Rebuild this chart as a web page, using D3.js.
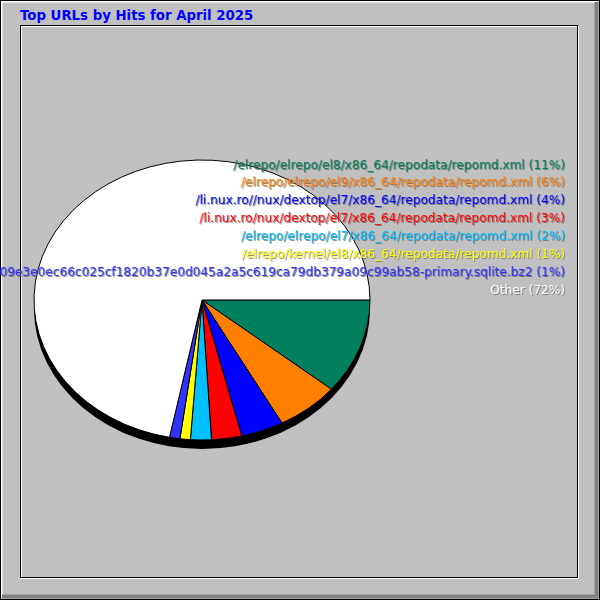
<!DOCTYPE html>
<html>
<head>
<meta charset="utf-8">
<script src="https://cdn.jsdelivr.net/npm/d3@7"></script>
<style>
body { margin: 0; background: #fff; }
svg { display: block; }
</style>
</head>
<body>
<div id="chart"></div>
<script>
// Top URLs for the month, share of hits (%)
var urls = [
	"/elrepo/elrepo/el8/x86_64/repodata/repomd.xml",
	"/elrepo/elrepo/el9/x86_64/repodata/repomd.xml",
	"/li.nux.ro//nux/dextop/el7/x86_64/repodata/repomd.xml",
	"/li.nux.ro/nux/dextop/el7/x86_64/repodata/repomd.xml",
	"/elrepo/elrepo/el7/x86_64/repodata/repomd.xml",
	"/elrepo/kernel/el8/x86_64/repodata/repomd.xml",
	"09e3e0ec66c025cf1820b37e0d045a2a5c619ca79db379a09c99ab58-primary.sqlite.bz2",
	"Other"
];
var percents = [11.0, 6.1, 4.1, 2.9, 2.0, 1.0, 1.0, 71.9];
var colors = ["#00805C", "#FF8000", "#0000FF", "#FF0000", "#00C0FF", "#FFFF00", "#3333FF", "#FFFFFF"];
var title = "Top URLs by Hits for April 2025";

var W = 600, H = 600;
var svg = d3.select("#chart").append("svg")
	.attr("width", W).attr("height", H);

// outer panel
svg.append("rect").attr("x", 0).attr("y", 0).attr("width", W).attr("height", H)
	.attr("fill", "#C0C0C0");
svg.append("path").attr("d", "M1.5,598V1.5H598").attr("fill", "none")
	.attr("stroke", "#fff").attr("stroke-width", 2);
svg.append("path").attr("d", "M2,596.5H596.5V2").attr("fill", "none")
	.attr("stroke", "#808080").attr("stroke-width", 4);
svg.append("rect").attr("x", 0.5).attr("y", 0.5).attr("width", W - 1).attr("height", H - 1)
	.attr("fill", "none").attr("stroke", "#000");

// inner frame
svg.append("rect").attr("x", 21.5).attr("y", 26.5).attr("width", 557).attr("height", 552)
	.attr("fill", "none").attr("stroke", "#fff");
svg.append("rect").attr("x", 20.5).attr("y", 25.5).attr("width", 557).attr("height", 552)
	.attr("fill", "none").attr("stroke", "#000");

svg.append("text").attr("x", 20).attr("y", 20)
	.attr("font-family", "DejaVu Sans").attr("font-weight", "bold").attr("font-size", 13.3)
	.attr("fill", "#0000FF").text(title);

// pie
var cx = 202, cy = 300, rx = 168, ry = 140, depth = 9;

svg.append("ellipse").attr("cx", cx).attr("cy", cy + depth).attr("rx", rx).attr("ry", ry)
	.attr("fill", "#000");

var pie = d3.pie().sort(null)
	.startAngle(Math.PI / 2).endAngle(Math.PI / 2 + 2 * Math.PI);
var arc = d3.arc().innerRadius(0).outerRadius(rx);

svg.append("g")
	.attr("transform", "translate(" + cx + "," + cy + ")scale(1," + (ry / rx) + ")")
	.selectAll("path.slice")
	.data(pie(percents)).enter()
	.append("path").attr("class", "slice")
	.attr("d", arc)
	.attr("fill", (d, i) => colors[i])
	.attr("stroke", "#000")
	.attr("stroke-width", 1)
	.attr("vector-effect", "non-scaling-stroke");

// legend labels
var y = d3.scalePoint().domain(d3.range(urls.length)).range([168.5, 293.5]);
var labels = svg.append("g")
	.attr("font-family", "DejaVu Sans").attr("font-size", 12.15)
	.attr("text-anchor", "end");

urls.forEach((u, i) => {
	var t = u + " (" + Math.round(percents[i]) + "%)";
	labels.append("text").attr("x", 566).attr("y", y(i) + 1)
		.attr("fill", "#606060").attr("opacity", 0.7).text(t);
	labels.append("text").attr("x", 565).attr("y", y(i))
		.attr("fill", colors[i]).text(t);
});
</script>
</body>
</html>
